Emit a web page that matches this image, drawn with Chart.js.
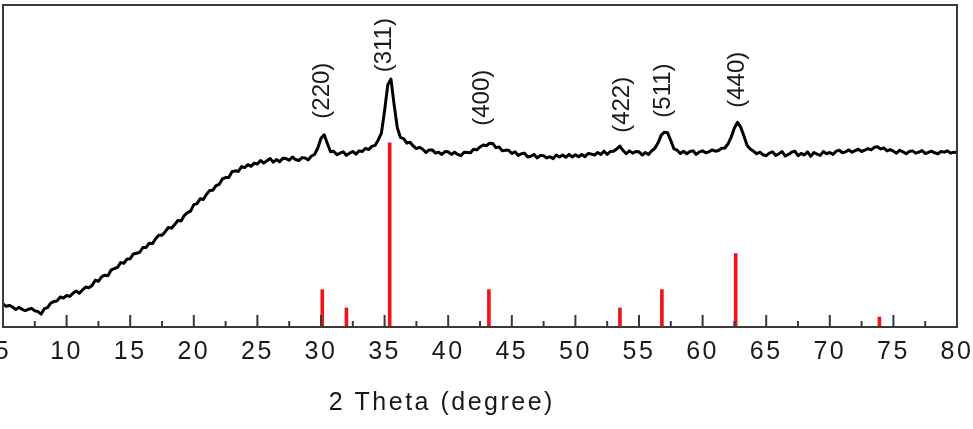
<!DOCTYPE html>
<html>
<head>
<meta charset="utf-8">
<script src="https://cdn.jsdelivr.net/npm/chart.js@4.4.1/dist/chart.umd.min.js"></script>
<style>
  body { margin: 0; background: #fff; }
  canvas { display: block; }
</style>
</head>
<body>
<canvas id="xrd" width="973" height="429"></canvas>
<script>
// measured pattern, one value every 0.25 deg from 5 to 80
const intensity = [
  7.2, 6.4, 6.7, 6.2, 5.4, 6.1, 5.5, 5.1, 5.5, 5.8, 5.0, 4.8, 4.0, 5.7, 6.0, 7.4, 7.9, 8.1, 9.3, 9.0,
  9.8, 9.5, 10.5, 11.2, 10.5, 11.5, 12.4, 12.2, 12.9, 14.5, 14.2, 15.6, 16.1, 15.9, 17.7, 18.1, 18.5, 20.0, 19.8, 21.1,
  21.2, 22.7, 22.9, 23.2, 24.7, 24.7, 26.0, 25.9, 27.4, 28.5, 28.5, 29.6, 30.9, 30.7, 31.8, 33.1, 32.9, 34.6, 35.5, 36.0,
  38.0, 38.3, 39.8, 39.6, 41.2, 42.4, 42.5, 43.9, 44.3, 46.0, 46.4, 46.4, 48.2, 48.5, 48.3, 49.8, 49.5, 50.4, 49.9, 50.9,
  50.6, 51.7, 50.9, 51.6, 52.3, 51.2, 52.0, 51.3, 52.4, 52.3, 51.8, 52.8, 52.0, 51.7, 52.6, 52.5, 51.9, 53.1, 53.6, 55.6,
  58.6, 59.7, 57.0, 54.4, 54.6, 53.5, 54.0, 54.4, 53.3, 54.0, 54.5, 53.7, 54.7, 54.5, 55.5, 55.1, 56.1, 56.4, 58.1, 60.2,
  67.2, 75.2, 77.0, 69.0, 61.9, 58.8, 58.5, 57.1, 57.4, 56.2, 55.4, 55.8, 55.2, 54.2, 55.0, 55.0, 54.0, 54.3, 53.6, 54.5,
  54.4, 53.6, 54.3, 53.6, 53.2, 54.3, 54.2, 54.1, 55.2, 55.0, 55.9, 56.5, 56.3, 57.1, 57.0, 55.7, 55.9, 54.7, 54.9, 54.9,
  53.9, 54.4, 53.3, 53.8, 54.0, 52.8, 53.0, 53.6, 52.5, 53.3, 53.2, 52.5, 52.9, 52.3, 53.4, 52.8, 53.4, 52.7, 53.6, 52.8,
  53.5, 52.9, 53.6, 52.9, 53.9, 53.7, 53.4, 54.2, 53.6, 54.6, 53.6, 54.5, 54.6, 55.3, 56.2, 54.8, 53.8, 54.7, 54.0, 54.5,
  54.4, 53.4, 54.2, 53.6, 54.7, 55.5, 57.2, 59.6, 60.5, 60.3, 57.9, 55.3, 54.9, 53.9, 54.6, 53.8, 54.5, 54.7, 53.6, 54.4,
  54.7, 54.1, 54.4, 55.0, 54.6, 54.8, 55.5, 55.6, 56.9, 59.0, 61.8, 63.6, 62.0, 59.3, 56.4, 55.3, 54.6, 53.8, 54.3, 53.5,
  53.2, 54.0, 54.4, 53.3, 53.8, 54.5, 53.1, 53.6, 54.3, 54.6, 53.2, 53.9, 53.4, 54.4, 53.0, 54.2, 53.7, 53.3, 54.5, 53.8,
  54.2, 53.6, 54.6, 54.9, 54.1, 54.4, 55.0, 54.3, 54.8, 55.2, 54.5, 54.9, 55.4, 55.0, 55.8, 56.0, 55.3, 55.6, 54.7, 55.1,
  54.6, 54.0, 54.9, 54.4, 53.8, 54.5, 54.7, 54.0, 54.3, 54.8, 53.9, 54.2, 54.6, 54.1, 53.8, 54.5, 54.3, 54.7, 54.0, 54.3,
  54.2
];
const twoTheta = intensity.map((_, i) => 5 + i * 0.25);

// reference card lines (red sticks)
const refPos = [30.1, 32.0, 35.4, 43.2, 53.5, 56.8, 62.6, 73.9];
const refInt = [11.6, 5.9, 57.2, 11.6, 5.9, 11.6, 22.8, 3.1];

// peak indices
const peakLabels = ['(220)', '(311)', '(400)', '(422)', '(511)', '(440)'];
const peakPos = [30.1, 35.0, 42.7, 53.7, 56.9, 62.7];
const peakLabelBase = [64.7, 79.1, 62.5, 60.3, 65.0, 68.1];

const axisTitle = '2 Theta (degree)';

const spacing = {
  id: 'spacing',
  beforeDraw(chart) { chart.ctx.letterSpacing = '2.5px'; }
};

const peaks = {
  id: 'peaks',
  afterDatasetsDraw(chart) {
    const ctx = chart.ctx;
    const xs = chart.scales.x, ys = chart.scales.y;
    ctx.save();
    ctx.letterSpacing = '0px';
    ctx.fillStyle = '#1a1a1a';
    ctx.font = '24px "Liberation Sans", Arial, sans-serif';
    ctx.textAlign = 'left';
    ctx.textBaseline = 'middle';
    peakLabels.forEach((t, i) => {
      ctx.save();
      ctx.translate(xs.getPixelForValue(peakPos[i]), ys.getPixelForValue(peakLabelBase[i]));
      ctx.rotate(-Math.PI / 2);
      ctx.fillText(t, 0, 0);
      ctx.restore();
    });
    ctx.restore();
  }
};

const frame = {
  id: 'frame',
  afterDraw(chart) {
    const ctx = chart.ctx;
    const a = chart.chartArea;
    const xs = chart.scales.x;
    ctx.save();
    ctx.strokeStyle = '#3a3a3a';
    ctx.lineWidth = 2;
    ctx.strokeRect(a.left, a.top, a.right - a.left, a.bottom - a.top);
    // inward ticks, minor ones halfway between majors
    ctx.beginPath();
    xs.ticks.forEach((t, i) => {
      const px = xs.getPixelForValue(t.value);
      ctx.moveTo(px, a.bottom);
      ctx.lineTo(px, a.bottom - 12);
      if (i < xs.ticks.length - 1) {
        const mx = xs.getPixelForValue((t.value + xs.ticks[i + 1].value) / 2);
        ctx.moveTo(mx, a.bottom);
        ctx.lineTo(mx, a.bottom - 6);
      }
    });
    ctx.stroke();
    // axis title
    ctx.letterSpacing = '2.5px';
    ctx.fillStyle = '#1a1a1a';
    ctx.font = '25px "Liberation Sans", Arial, sans-serif';
    ctx.textAlign = 'center';
    ctx.textBaseline = 'middle';
    ctx.fillText(axisTitle, a.left + (a.right - a.left) * 0.46, 403);
    ctx.restore();
  }
};

new Chart(document.getElementById('xrd'), {
  type: 'line',
  data: {
    datasets: [
      {
        type: 'line',
        data: twoTheta.map((x, i) => ({ x: x, y: intensity[i] })),
        borderColor: '#000',
        borderWidth: 3,
        borderJoinStyle: 'round',
        pointRadius: 0,
        tension: 0,
        order: 1
      },
      {
        type: 'bar',
        data: refPos.map((x, i) => ({ x: x, y: refInt[i] })),
        backgroundColor: '#f01515',
        barThickness: 3,
        order: 2
      }
    ]
  },
  options: {
    responsive: false,
    animation: false,
    layout: { padding: { left: 3, right: 16, top: 5, bottom: 52 } },
    plugins: { legend: { display: false }, tooltip: { enabled: false } },
    scales: {
      x: {
        type: 'linear',
        min: 5,
        max: 80,
        offset: false,
        grid: { display: false, drawTicks: false },
        border: { display: false },
        ticks: {
          stepSize: 5,
          autoSkip: false,
          maxRotation: 0,
          padding: 10,
          color: '#1a1a1a',
          font: { family: '"Liberation Sans", Arial, sans-serif', size: 25 }
        },
        afterFit(scale) {
          scale.paddingLeft = 0;
          scale.paddingRight = 0;
        }
      },
      y: {
        display: false,
        min: 0,
        max: 100
      }
    }
  },
  plugins: [spacing, peaks, frame]
});
</script>
</body>
</html>
